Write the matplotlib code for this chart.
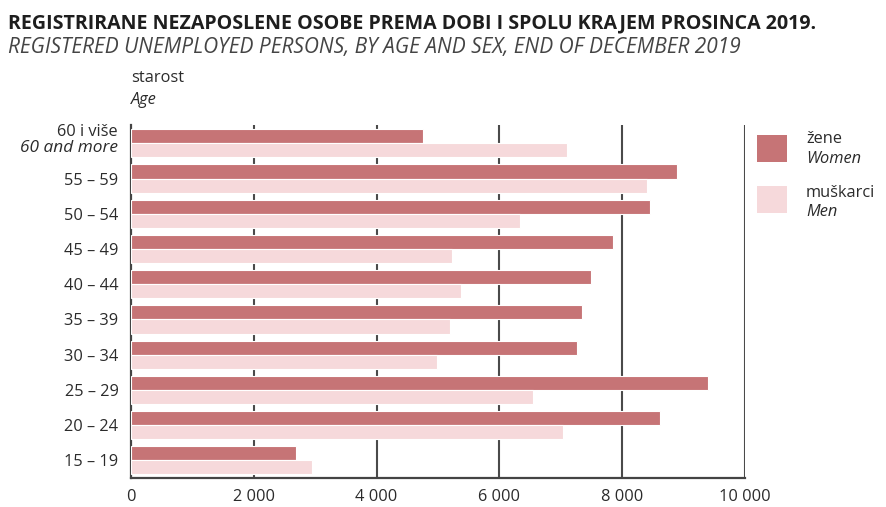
import matplotlib
matplotlib.use("Agg")
import matplotlib.pyplot as plt
import numpy as np
from matplotlib.patches import Rectangle

plt.rcParams['font.family'] = ['Open Sans', 'DejaVu Sans']

categories = ["60 i više", "55 – 59", "50 – 54", "45 – 49", "40 – 44",
              "35 – 39", "30 – 34", "25 – 29", "20 – 24", "15 – 19"]
first_cat_en = "60 and more"
women = [4750, 8900, 8450, 7850, 7500, 7340, 7270, 9400, 8610, 2690]
men = [7100, 8410, 6340, 5230, 5370, 5200, 4980, 6550, 7040, 2950]
xticks = [0, 2000, 4000, 6000, 8000, 10000]
xticklabels = ["0", "2 000", "4 000", "6 000", "8 000", "10 000"]

title_hr = "REGISTRIRANE NEZAPOSLENE OSOBE PREMA DOBI I SPOLU KRAJEM PROSINCA 2019."
title_en = "REGISTERED UNEMPLOYED PERSONS, BY AGE AND SEX, END OF DECEMBER 2019"

c_women = "#C67476"
c_men = "#F6D9DB"
grid_c = "#4a4a4a"
text_c = "#2b2b2b"

W, H = 887, 507
fig = plt.figure(figsize=(W / 100, H / 100), dpi=100)
ax = fig.add_axes([131 / W, 1 - 478 / H, (745 - 131) / W, (478 - 125) / H])

y = np.arange(len(categories))
h = 0.4
ax.barh(y - h / 2, women, height=h, color=c_women, edgecolor="white", linewidth=0.8, zorder=3)
ax.barh(y + h / 2, men, height=h, color=c_men, edgecolor="white", linewidth=0.8, zorder=3)

ax.set_xlim(0, 10000)
ax.set_ylim(len(categories) - 0.5, -0.52)

for xv in xticks[1:]:
    ax.axvline(xv, color=grid_c, lw=1.5, zorder=1)

for s in ["top", "right"]:
    ax.spines[s].set_visible(False)
for s in ["left", "bottom"]:
    ax.spines[s].set_color("#444444")
    ax.spines[s].set_linewidth(1.6)

fs = 11.8
ax.set_xticks(xticks)
ax.set_xticklabels(xticklabels)
ax.tick_params(axis="x", length=0, pad=8, labelsize=fs, labelcolor=text_c)
ax.set_yticks(y)
ax.set_yticklabels([""] + categories[1:])
ax.tick_params(axis="y", length=0, pad=9, labelsize=fs, labelcolor=text_c)

tr = ax.get_yaxis_transform()
ax.text(-0.021, y[0] - 0.1, categories[0], transform=tr, ha="right", va="bottom",
        fontsize=fs, color=text_c)
ax.text(-0.021, y[0] - 0.1, first_cat_en, transform=tr, ha="right", va="top",
        fontsize=fs + 0.6, color=text_c, style="italic")

fig.text(8 / W, 1 - 28 / H, title_hr, fontsize=14.1, fontweight="bold", color="#1e1e1e",
         va="baseline", ha="left")
fig.text(8 / W, 1 - 53 / H, title_en, fontsize=15.0, style="italic", color="#444444",
         va="baseline", ha="left")

fig.text(131 / W, 1 - 78 / H, "starost", fontsize=fs, color=text_c, va="center")
fig.text(131 / W, 1 - 100 / H, "Age", fontsize=fs, color=text_c, va="center", style="italic")

# legend
fig.add_artist(Rectangle((757 / W, 1 - 162 / H), 30 / W, 27 / H, transform=fig.transFigure,
                         facecolor=c_women, edgecolor="none"))
fig.add_artist(Rectangle((757 / W, 1 - 213 / H), 30 / W, 27 / H, transform=fig.transFigure,
                         facecolor=c_men, edgecolor="none"))
fig.text(806 / W, 1 - 139 / H, "žene", fontsize=fs, color=text_c, va="center")
fig.text(806 / W, 1 - 159 / H, "Women", fontsize=fs, color=text_c, va="center", style="italic")
fig.text(806 / W, 1 - 193 / H, "muškarci", fontsize=fs, color=text_c, va="center")
fig.text(806 / W, 1 - 212 / H, "Men", fontsize=fs, color=text_c, va="center", style="italic")

fig.savefig("out.png", dpi=100, facecolor="white")
